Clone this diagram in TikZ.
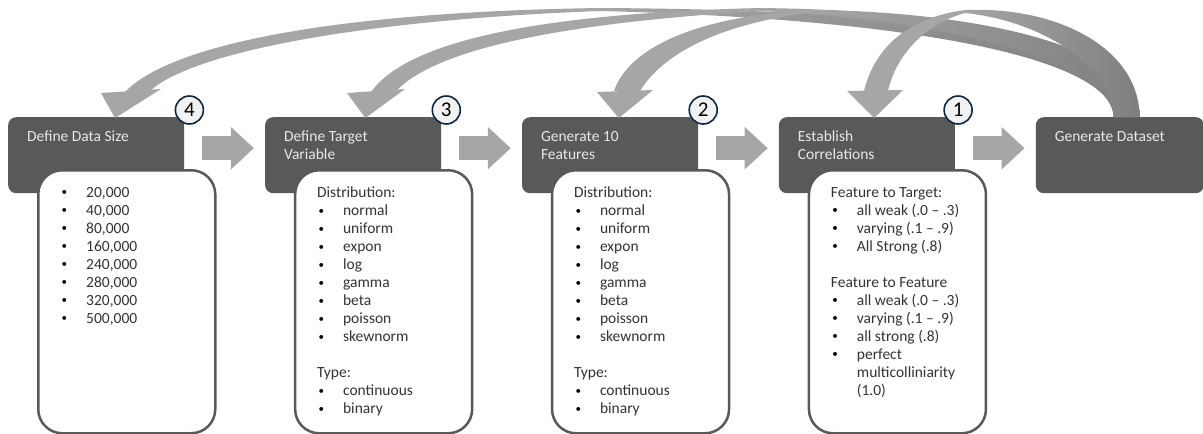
\documentclass[tikz,border=0pt]{standalone}
\usepackage{fontspec}
\setmainfont{Carlito}
\usepackage{tikz}
\usetikzlibrary{positioning,calc,arrows.meta}
\definecolor{hdrgray}{HTML}{595959}
\definecolor{hdrtext}{HTML}{E8E8E8}
\definecolor{listtext}{HTML}{333333}
\definecolor{flowgray}{HTML}{A6A6A6}
\definecolor{backgray}{HTML}{7F7F7F}
\definecolor{stepnavy}{HTML}{0E2841}
\definecolor{circfill}{HTML}{F2F2F2}
\newcommand{\itm}[1]{\makebox[26pt][l]{\hspace{1.5pt}\raisebox{1.3pt}{\color{black}\fontsize{11}{11}\selectfont\textbullet}}#1}

\begin{document}
\begin{tikzpicture}[x=1pt,y=-1pt,
  hdrBox/.style ={rectangle, rounded corners=8pt, fill=hdrgray, inner sep=0pt,
                  minimum width=176pt, minimum height=76pt, anchor=north west},
  hdrTxt/.style ={anchor=north west, inner sep=0pt, align=left, text=hdrtext,
                  font=\fontsize{15.5}{18}\selectfont},
  listBox/.style={rectangle, rounded corners=24pt, draw=hdrgray, line width=2.5pt, fill=white,
                  minimum width=177pt, minimum height=263pt, anchor=north west},
  listTxt/.style={anchor=north west, inner sep=0pt, align=left, text=listtext,
                  font=\fontsize{15.5}{18}\selectfont},
  stepNum/.style={circle, draw=stepnavy, line width=1.6pt, fill=circfill, inner sep=0pt,
                  minimum size=28pt, font=\fontsize{21}{21}\selectfont},
  flow/.style   ={line width=24pt, color=flowgray, -{Triangle[width=41pt,length=23pt]},
                  shorten <=18pt, shorten >=11pt},
]
\useasboundingbox (0,0) rectangle (1203,434);
% pipeline headers, left to right
\node[hdrBox] (dsize) at (8,117) {};
\node[hdrBox, right=80.5pt of dsize]  (target) {};
\node[hdrBox, right=80.5pt of target] (feats)  {};
\node[hdrBox, right=80.5pt of feats]  (corr)   {};
\node[hdrBox, right=80.5pt of corr, minimum width=168pt] (gen) {};
\node[hdrTxt] (dsizeT)  at ([xshift=19pt,yshift=-14pt]dsize.north west)  {Define Data Size};
\node[hdrTxt] (targetT) at ([xshift=19pt,yshift=-14pt]target.north west) {Define Target\\Variable};
\node[hdrTxt] (featsT)  at ([xshift=19pt,yshift=-14pt]feats.north west)  {Generate 10\\Features};
\node[hdrTxt] (corrT)   at ([xshift=19pt,yshift=-14pt]corr.north west)   {Establish\\Correlations};
\node[hdrTxt] (genT)    at ([xshift=19pt,yshift=-14pt]gen.north west)    {Generate Dataset};
% option lists under the first four headers
\def\distlist{Distribution:\\ \itm{normal}\\ \itm{uniform}\\ \itm{expon}\\ \itm{log}\\
  \itm{gamma}\\ \itm{beta}\\ \itm{poisson}\\ \itm{skewnorm}\\[18pt]
  Type:\\ \itm{continuous}\\ \itm{binary}}
\foreach \b in {dsize,target,feats,corr}
  \node[listBox] (\b L) at ([xshift=29pt,yshift=-52pt]\b.north west) {};
\node[listTxt] (dsizeI) at ([xshift=23pt,yshift=-18pt]dsizeL.north west)
  {\itm{20,000}\\ \itm{40,000}\\ \itm{80,000}\\ \itm{160,000}\\ \itm{240,000}\\
   \itm{280,000}\\ \itm{320,000}\\ \itm{500,000}};
\node[listTxt] (targetI) at ([xshift=23pt,yshift=-18pt]targetL.north west) {\distlist};
\node[listTxt] (featsI)  at ([xshift=23pt,yshift=-18pt]featsL.north west)  {\distlist};
\node[listTxt] (corrI)   at ([xshift=23pt,yshift=-18pt]corrL.north west)
  {Feature to Target:\\ \itm{all weak (.0 -- .3)}\\ \itm{varying (.1 -- .9)}\\
   \itm{All Strong (.8)}\\[18pt]
   Feature to Feature\\ \itm{all weak (.0 -- .3)}\\ \itm{varying (.1 -- .9)}\\
   \itm{all strong (.8)}\\ \itm{perfect}\\ \makebox[26pt]{}multicolliniarity\\
   \makebox[26pt]{}(1.0)};
% forward block arrows
\draw[flow] ([yshift=7pt]dsize.east)  -- ([yshift=7pt]target.west);
\draw[flow] ([yshift=7pt]target.east) -- ([yshift=7pt]feats.west);
\draw[flow] ([yshift=7pt]feats.east)  -- ([yshift=7pt]corr.west);
\draw[flow] ([yshift=7pt]corr.east)   -- ([yshift=7pt]gen.west);
% feedback arcs: dark back half rises out of Generate Dataset
\coordinate (genL) at ([xshift=78pt]gen.north west);
\coordinate (genR) at ([xshift=104pt]gen.north west);
\foreach \ax/\ay in {600/8, 760/8, 805/10} {
  \shade[left color=flowgray, right color=backgray]
    (\ax,\ay) .. controls (950,10) and (genR |- 0,40) .. (genR)
    -- (genL) .. controls (genL |- 0,65) and (950,20) .. (\ax,\ay+3) -- cycle;
}
\shade[left color=flowgray, right color=backgray]
  (965,10) .. controls (1060,6) and (genR |- 0,50) .. (genR)
  -- (genL) .. controls (genL |- 0,72) and (1050,22) .. (965,13) -- cycle;
% light front half and head, one per step
\coordinate (tip1) at ([xshift=107pt,yshift=-1pt]dsize.north west);
\coordinate (tip2) at ([xshift=100.5pt,yshift=-1pt]target.north west);
\coordinate (tip3) at ([xshift=97pt,yshift=-1pt]feats.north west);
\coordinate (tip4) at ([xshift=95.5pt,yshift=-1pt]corr.north west);
\fill[flowgray] (125,92) .. controls (170,45) and (330,12) .. (600,8)
  -- (600,11) .. controls (360,20) and (195,52) .. (151,90) -- cycle;
\fill[flowgray] (101,93) -- (161,89) -- (tip1) -- cycle;
\fill[flowgray] (371,92) .. controls (405,45) and (520,14) .. (760,8)
  -- (760,11) .. controls (545,24) and (435,52) .. (397,90) -- cycle;
\fill[flowgray] (347,93) -- (405,89) -- (tip2) -- cycle;
\fill[flowgray] (614,91) .. controls (628,50) and (690,18) .. (805,10)
  -- (805,13) .. controls (715,26) and (662,55) .. (640,91) -- cycle;
\fill[flowgray] (597,92) -- (653,90) -- (tip3) -- cycle;
\fill[flowgray] (864,91) .. controls (874,50) and (905,18) .. (965,10)
  -- (965,13) .. controls (925,24) and (896,55) .. (888,91) -- cycle;
\fill[flowgray] (847,91) -- (903,90) -- (tip4) -- cycle;
% step numbers
\node[stepNum] (n4) at ([xshift=5pt,yshift=7pt]dsize.north east)  {4};
\node[stepNum] (n3) at ([xshift=5pt,yshift=7pt]target.north east) {3};
\node[stepNum] (n2) at ([xshift=5pt,yshift=7pt]feats.north east)  {2};
\node[stepNum] (n1) at ([xshift=3pt,yshift=7pt]corr.north east)   {1};
\end{tikzpicture}
\end{document}
